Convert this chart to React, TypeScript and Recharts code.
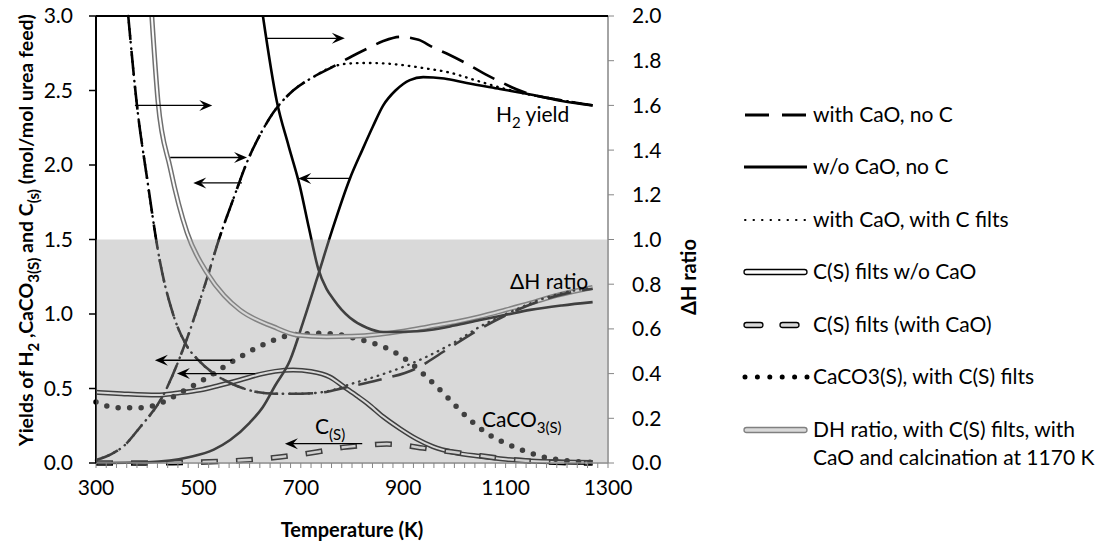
import React from 'react'
import { LineChart, Line, XAxis, YAxis, ReferenceArea, ReferenceLine } from 'recharts'

// H2 yield, with CaO, no C (dashed)
const T_H2_CAO = [300, 330, 353, 386, 429, 474, 515, 542, 568, 595, 620, 646, 685, 724, 763, 800, 829, 860, 894, 930, 958, 990, 1024, 1060, 1089, 1120, 1154, 1200, 1270]
const H2_CAO = [0.02, 0.06, 0.11, 0.24, 0.44, 0.8, 1.22, 1.52, 1.77, 2.02, 2.2, 2.35, 2.5, 2.59, 2.66, 2.73, 2.78, 2.83, 2.86, 2.84, 2.79, 2.74, 2.68, 2.61, 2.56, 2.51, 2.47, 2.44, 2.4]

// H2 yield, with CaO, with C filts (dotted)
const T_H2_CAO_C = [300, 330, 353, 386, 429, 474, 515, 542, 568, 595, 620, 646, 685, 724, 763, 790, 830, 870, 900, 940, 991, 1040, 1089, 1150, 1200, 1270]
const H2_CAO_C = [0.02, 0.06, 0.11, 0.24, 0.44, 0.8, 1.22, 1.52, 1.77, 2.02, 2.2, 2.35, 2.5, 2.59, 2.66, 2.68, 2.685, 2.68, 2.67, 2.65, 2.62, 2.57, 2.52, 2.47, 2.44, 2.4]

// H2 yield, w/o CaO, no C (solid)
const T_H2_NOCAO = [300, 400, 483, 530, 562, 600, 626, 650, 679, 705, 731, 760, 796, 820, 841, 861, 885, 913, 939, 980, 1024, 1089, 1154, 1210, 1270]
const H2_NOCAO = [0, 0.005, 0.04, 0.09, 0.154, 0.27, 0.376, 0.52, 0.69, 0.95, 1.23, 1.55, 1.91, 2.1, 2.26, 2.4, 2.5, 2.57, 2.59, 2.58, 2.55, 2.51, 2.47, 2.43, 2.4]

// C(S) yield, w/o CaO (double line)
const T_C_NOCAO = [300, 350, 419, 460, 503, 540, 581, 620, 650, 685, 720, 757, 785, 810, 830, 861, 894, 927, 958, 1000, 1050, 1100, 1150, 1210, 1270]
const C_NOCAO = [0.475, 0.465, 0.456, 0.47, 0.49, 0.52, 0.557, 0.595, 0.615, 0.624, 0.614, 0.577, 0.51, 0.45, 0.4, 0.31, 0.23, 0.16, 0.11, 0.07, 0.045, 0.025, 0.013, 0.007, 0.004]

// C(S) yield, with CaO (dashed double line)
const T_C_CAO = [300, 400, 450, 500, 536, 594, 659, 731, 783, 830, 868, 900, 939, 975, 1011, 1047, 1083, 1120, 1161, 1210, 1270]
const C_CAO = [0, 0, 0.002, 0.006, 0.01, 0.02, 0.04, 0.074, 0.105, 0.12, 0.127, 0.12, 0.1, 0.083, 0.067, 0.05, 0.034, 0.02, 0.01, 0.003, 0]

// CaCO3(S), with C(S) filts (big dots)
const T_CACO3 = [300, 314, 353, 386, 425, 464, 509, 566, 624, 665, 700, 738, 770, 802, 835, 868, 907, 946, 978, 1024, 1063, 1095, 1122, 1150, 1173, 1210, 1251, 1270]
const CACO3 = [0.41, 0.39, 0.37, 0.37, 0.4, 0.47, 0.557, 0.68, 0.79, 0.846, 0.865, 0.87, 0.865, 0.84, 0.81, 0.77, 0.69, 0.577, 0.47, 0.31, 0.2, 0.14, 0.1, 0.065, 0.04, 0.02, 0.007, 0.005]

// dH ratio, with CaO, no C (dashed)
const T_DH_CAO = [363, 380, 400, 425, 450, 474, 500, 530, 562, 614, 650, 700, 750, 782, 850, 927, 980, 1050, 1109, 1173, 1220, 1270]
const DH_CAO = [2.0, 1.6, 1.27, 0.9, 0.67, 0.537, 0.46, 0.4, 0.358, 0.318, 0.31, 0.31, 0.318, 0.335, 0.37, 0.425, 0.5, 0.6, 0.67, 0.73, 0.76, 0.78]

// dH ratio, with CaO, with C filts (dotted)
const T_DH_CAO_C = [363, 380, 400, 425, 450, 474, 500, 530, 562, 614, 650, 700, 750, 800, 850, 900, 950, 1000, 1050, 1109, 1173, 1220, 1270]
const DH_CAO_C = [2.0, 1.6, 1.27, 0.9, 0.67, 0.537, 0.46, 0.4, 0.358, 0.318, 0.31, 0.31, 0.32, 0.355, 0.39, 0.43, 0.48, 0.54, 0.61, 0.675, 0.735, 0.765, 0.785]

// dH ratio, w/o CaO, no C (solid)
const T_DH_NOCAO = [626, 653, 676, 698, 716, 734, 750, 763, 780, 796, 829, 861, 900, 952, 1000, 1050, 1100, 1148, 1210, 1270]
const DH_NOCAO = [2.0, 1.62, 1.42, 1.24, 1.05, 0.87, 0.78, 0.735, 0.685, 0.65, 0.605, 0.586, 0.587, 0.595, 0.615, 0.64, 0.663, 0.685, 0.705, 0.72]

// dH ratio, with C(S) filts, CaO and calcination at 1170 K (gray double line)
const T_DH_CALC = [409, 421, 445, 478, 517, 550, 581, 646, 692, 750, 800, 850, 900, 950, 1000, 1050, 1100, 1148, 1200, 1270]
const DH_CALC = [2.0, 1.62, 1.32, 1.03, 0.85, 0.75, 0.685, 0.61, 0.573, 0.565, 0.567, 0.575, 0.59, 0.61, 0.63, 0.655, 0.685, 0.715, 0.75, 0.785]

// annotation arrows (left-axis units)
const ARROW_FROM = [634, 376, 445, 585, 796, 566, 611, 820]
const ARROW_TO = [786, 527, 595, 490, 695, 415, 458, 669]
const ARROW_Y = [2.85, 2.4, 2.05, 1.88, 1.91, 0.69, 0.6, 0.13]

const X_LABELS = [300, 500, 700, 900, 1100, 1300]
const LEFT_TICKS = [0, 0.5, 1.0, 1.5, 2.0, 2.5, 3.0]
const RIGHT_TICKS = [0, 0.2, 0.4, 0.6, 0.8, 1.0, 1.2, 1.4, 1.6, 1.8, 2.0]

const xMinor: number[] = []
for (let t = 300; t <= 1300; t += 20) xMinor.push(t)

const zip = (t: number[], v: number[]) => t.map((x, i) => ({ t: x, v: v[i] }))

const FONT = 'Lato, sans-serif'
const AXIS_GRAY = '#868686'

const Arrow = (p: any) => {
  const { x1, y1, x2, y2 } = p
  const dir = x2 > x1 ? 1 : -1
  const back = x2 - dir * 13
  const notch = x2 - dir * 8
  return (
    <g>
      <line x1={x1} y1={y1} x2={notch} y2={y2} stroke="#000" strokeWidth={1.4} />
      <polygon points={`${x2},${y2} ${back},${y2 - 5.5} ${notch},${y2} ${back},${y2 + 5.5}`} fill="#000" />
    </g>
  )
}

const base = { type: 'monotone' as const, dataKey: 'v', dot: false, activeDot: false, isAnimationActive: false }

const Sub = ({ children }: { children: React.ReactNode }) => (
  <tspan dy={6} fontSize={15}>{children}</tspan>
)

export default function App() {
  const tick = { fontSize: 21, fill: '#000', fontFamily: FONT }
  return (
    <div style={{ position: 'relative', width: 1109, height: 549, background: '#fff', fontFamily: FONT }}>
      <style>{'body{margin:0}'}</style>
      <LineChart width={1109} height={549} margin={{ top: 16, right: 441, left: 36, bottom: 46 }}>
        <XAxis
          type="number"
          dataKey="t"
          domain={[300, 1300]}
          ticks={xMinor}
          interval={0}
          tickFormatter={(v: number) => (X_LABELS.includes(v) ? String(v) : '')}
          height={40}
          tick={tick}
          tickSize={5}
          tickMargin={12}
          axisLine={{ stroke: AXIS_GRAY, strokeWidth: 1.5 }}
          tickLine={{ stroke: AXIS_GRAY }}
        />
        <YAxis
          yAxisId="l"
          domain={[0, 3]}
          ticks={LEFT_TICKS}
          tickFormatter={(v: number) => v.toFixed(1)}
          width={60}
          tick={tick}
          tickSize={7}
          tickMargin={16}
          axisLine={{ stroke: '#000', strokeWidth: 2 }}
          tickLine={{ stroke: '#000', strokeWidth: 1.5 }}
        />
        <YAxis
          yAxisId="r"
          orientation="right"
          domain={[0, 2]}
          ticks={RIGHT_TICKS}
          tickFormatter={(v: number) => v.toFixed(1)}
          width={60}
          tick={tick}
          tickSize={6}
          tickMargin={18}
          axisLine={{ stroke: AXIS_GRAY, strokeWidth: 1.5 }}
          tickLine={{ stroke: AXIS_GRAY }}
        />

        {/* yields, left axis */}
        <Line {...base} data={zip(T_C_NOCAO, C_NOCAO)} yAxisId="l" stroke="#000" strokeWidth={5} />
        <Line {...base} data={zip(T_C_NOCAO, C_NOCAO)} yAxisId="l" stroke="#fff" strokeWidth={2} />
        <Line {...base} data={zip(T_C_CAO, C_CAO)} yAxisId="l" stroke="#000" strokeWidth={5.5} strokeDasharray="17 18" />
        <Line {...base} data={zip(T_C_CAO, C_CAO)} yAxisId="l" stroke="#eee" strokeWidth={2.5} strokeDasharray="14 21" strokeDashoffset={-1.5} />
        <Line {...base} data={zip(T_CACO3, CACO3)} yAxisId="l" stroke="#000" strokeWidth={5.5} strokeLinecap="round" strokeDasharray="0 11.5" />
        <Line {...base} data={zip(T_H2_NOCAO, H2_NOCAO)} yAxisId="l" stroke="#000" strokeWidth={2.6} />
        <Line {...base} data={zip(T_H2_CAO, H2_CAO)} yAxisId="l" stroke="#000" strokeWidth={2.6} strokeDasharray="24 11" />
        <Line {...base} data={zip(T_H2_CAO_C, H2_CAO_C)} yAxisId="l" stroke="#000" strokeWidth={2.4} strokeLinecap="round" strokeDasharray="0.5 6" />

        {/* dH ratio, right axis */}
        <Line {...base} data={zip(T_DH_CALC, DH_CALC)} yAxisId="r" stroke="#6f6f6f" strokeWidth={5} />
        <Line {...base} data={zip(T_DH_CALC, DH_CALC)} yAxisId="r" stroke="#fafafa" strokeWidth={2} />
        <Line {...base} data={zip(T_DH_NOCAO, DH_NOCAO)} yAxisId="r" stroke="#000" strokeWidth={2.6} />
        <Line {...base} data={zip(T_DH_CAO, DH_CAO)} yAxisId="r" stroke="#000" strokeWidth={2.6} strokeDasharray="24 11" />
        <Line {...base} data={zip(T_DH_CAO_C, DH_CAO_C)} yAxisId="r" stroke="#000" strokeWidth={2.4} strokeLinecap="round" strokeDasharray="0.5 6" />

        <ReferenceArea yAxisId="l" x1={300} x2={1300} y1={0} y2={1.5} fill="#a0a0a0" fillOpacity={0.4} stroke="none" zIndex={600} />
        <ReferenceLine yAxisId="l" y={3} stroke="#000" strokeWidth={2} zIndex={1600} />
        {ARROW_FROM.map((from, i) => (
          <ReferenceLine
            key={i}
            yAxisId="l"
            segment={[{ x: from, y: ARROW_Y[i] }, { x: ARROW_TO[i], y: ARROW_Y[i] }]}
            shape={Arrow}
            zIndex={1600}
          />
        ))}
      </LineChart>

      <svg width={1109} height={549} style={{ position: 'absolute', left: 0, top: 0, pointerEvents: 'none' }} fontFamily={FONT}>
        {/* axis titles */}
        <text transform="translate(33,230) rotate(-90)" textAnchor="middle" fontSize={19.5} fontWeight="bold">
          Yields of H<Sub>2</Sub><tspan dy={-6}> ,CaCO</tspan><Sub>3(S)</Sub><tspan dy={-6}> and C</tspan><Sub>(s)</Sub><tspan dy={-6}> (mol/mol urea feed)</tspan>
        </text>
        <text transform="translate(696,277) rotate(-90)" textAnchor="middle" fontSize={20} fontWeight="bold">ΔH ratio</text>
        <text x={352} y={537} textAnchor="middle" fontSize={20} fontWeight="bold">Temperature (K)</text>

        {/* in-plot labels */}
        <text x={496} y={122} fontSize={21}>H<Sub>2</Sub><tspan dy={-6}> yield</tspan></text>
        <text x={510} y={289} fontSize={21}>ΔH ratio</text>
        <text x={482} y={427} fontSize={21}>CaCO<Sub>3(S)</Sub></text>
        <text x={315} y={434} fontSize={21}>C<Sub>(S)</Sub></text>

        {/* legend */}
        <g fontSize={21}>
          <line x1={745} x2={807} y1={115} y2={115} stroke="#000" strokeWidth={3} strokeDasharray="24 13" />
          <text x={813} y={122}>with CaO, no C</text>
          <line x1={744} x2={807} y1={167} y2={167} stroke="#000" strokeWidth={3} />
          <text x={813} y={174}>w/o CaO, no C</text>
          <line x1={745} x2={806} y1={220} y2={220} stroke="#000" strokeWidth={2} strokeLinecap="round" strokeDasharray="0.5 8" />
          <text x={813} y={227}>with CaO, with C filts</text>
          <rect x={744} y={269.5} width={63} height={5} rx={2.5} fill="#fff" stroke="#000" strokeWidth={1.3} />
          <text x={813} y={279}>C(S) filts w/o CaO</text>
          <rect x={744} y={322.5} width={19} height={5} rx={2.5} fill="#d9d9d9" stroke="#000" strokeWidth={1.3} />
          <rect x={780} y={322.5} width={19} height={5} rx={2.5} fill="#d9d9d9" stroke="#000" strokeWidth={1.3} />
          <text x={813} y={332}>C(S) filts (with CaO)</text>
          <line x1={745} x2={807} y1={377} y2={377} stroke="#000" strokeWidth={5} strokeLinecap="round" strokeDasharray="0 12.4" />
          <text x={813} y={384}>CaCO3(S), with C(S) filts</text>
          <rect x={744} y={427.5} width={63} height={5} rx={2.5} fill="#d9d9d9" stroke="#808080" strokeWidth={1.3} />
          <text x={813} y={437}>DH ratio, with C(S) filts, with</text>
          <text x={813} y={465}>CaO and calcination at 1170 K</text>
        </g>
      </svg>
    </div>
  )
}
